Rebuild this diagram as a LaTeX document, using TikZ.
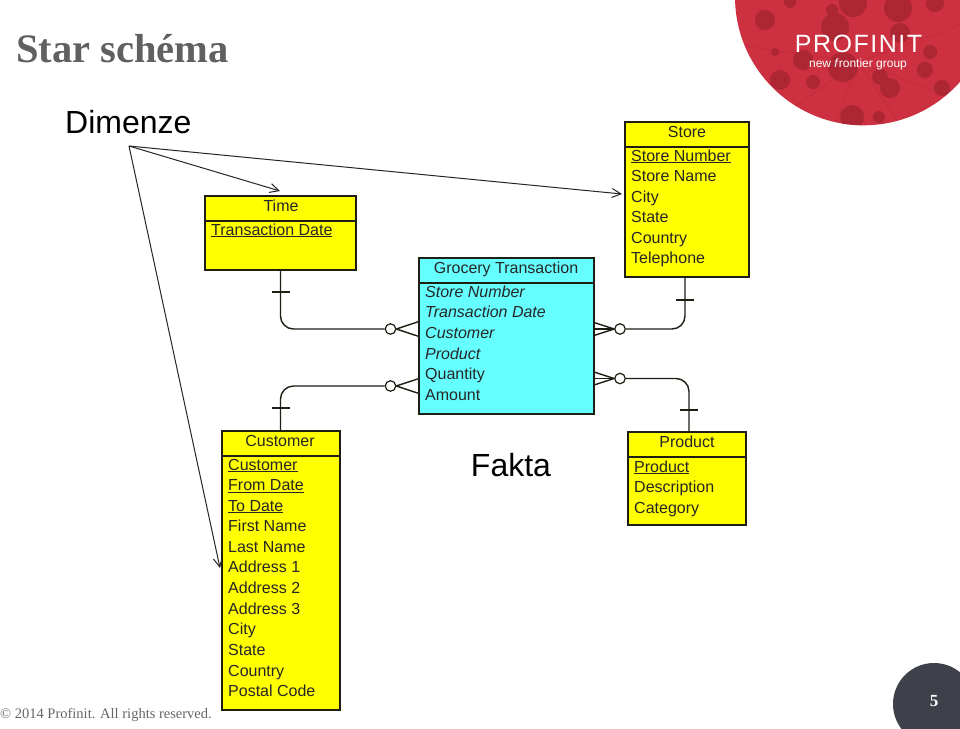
\documentclass[tikz,border=0pt]{standalone}
\usepackage{fontspec}
\setmainfont{Liberation Sans}
\newfontfamily\serifface{Liberation Serif}
\newfontfamily\brandface[LetterSpace=6]{Liberation Sans}
\usetikzlibrary{arrows.meta}
\definecolor{entyellow}{RGB}{255,255,0}
\definecolor{entcyan}{RGB}{102,255,255}
\definecolor{edgeink}{RGB}{30,30,20}
\definecolor{logored}{RGB}{205,48,64}
\definecolor{logodark}{RGB}{172,38,52}
\definecolor{logovein}{RGB}{188,42,58}
\definecolor{pagenum}{RGB}{62,64,74}
\definecolor{titlegrey}{RGB}{96,96,96}
\tikzset{
  x=1pt,y=-1pt,
  entity/.style={draw=edgeink,line width=1.3pt,inner sep=0pt,outer sep=0pt,anchor=north west},
  enttitle/.style={font=\fontsize{16}{16}\selectfont,text=black!85,inner sep=0pt,anchor=base},
  rowtext/.style={font=\fontsize{16}{16}\selectfont,text=black!85,anchor=base west,inner sep=0pt},
  fkrow/.style={rowtext,font=\fontsize{16}{16}\selectfont\itshape},
  relation/.style={draw=edgeink,line width=1.4pt,rounded corners=13pt},
  crow/.style={draw=edgeink,line width=1.4pt},
  tick/.style={draw=edgeink,line width=1.1pt},
  optional/.style={circle,draw=edgeink,fill=white,line width=1.2pt,minimum size=10.5pt,inner sep=0pt},
  pointer/.style={draw=black!85,line width=1pt,-{Straight Barb[length=9pt,width=9pt]}},
}
\begin{document}
\begin{tikzpicture}
\useasboundingbox (0,0) rectangle (960,728);
\fill[white] (0,0) rectangle (960,728);

% corporate seal, top right
\begin{scope}
  \clip (0,0) rectangle (960,728);
  \fill[logored] (863.6,-3.3) circle (128.6);
  \begin{scope}
    \clip (863.6,-3.3) circle (128.6);
    \draw[logovein,line width=.5pt] (858,62)--(735,45) (858,62)--(790,110) (858,62)--(960,100) (858,62)--(960,25) (858,62)--(835,125) (858,62)--(900,125);
    \foreach \px/\py/\pr in {765/20/10,775/52/4,780/80/10,813/82/7,803/60/10,835/27/14,853/3/14,
      832/10/6,898/8/14,900/33/10,930/52/7,925/70/8,890/88/10,880/77/8,942/88/8,852/117/12,
      879/117/6,843/67/15,935/3/9,790/2/6}
      \fill[logodark] (\px,\py) circle (\pr);
  \end{scope}
\end{scope}
\node[anchor=center,inner sep=0pt,text=white,font=\brandface\fontsize{25}{25}\selectfont] (brand) at (858.5,44) {PROFINIT};
\node[anchor=center,inner sep=0pt,text=white,font=\fontsize{12}{12}\selectfont] (tagline) at (858,64.5) {new \textit{f}rontier group};

% slide heading and captions
\node[anchor=base west,inner sep=0pt,text=titlegrey,font=\serifface\bfseries\fontsize{40.5}{41}\selectfont] (heading) at (16,62) {Star schéma};
\node[anchor=west,inner sep=0pt,font=\fontsize{32}{32}\selectfont] (dimenze) at (65,122) {Dimenze};
\node[anchor=center,inner sep=0pt,font=\fontsize{32}{32}\selectfont] (fakta) at (511,465) {Fakta};
\node[anchor=base west,inner sep=0pt,text=black!60,font=\serifface\fontsize{14.5}{15}\selectfont] (rights) at (0,718) {© 2014 Profinit. All rights reserved.};

% page number badge
\fill[pagenum] (934,704) circle (41);
\node[inner sep=0pt,text=white,font=\serifface\bfseries\fontsize{17}{17}\selectfont] (pageno) at (934,701) {5};

% entity boxes
\node[entity,fill=entyellow,minimum width=151pt,minimum height=74pt] (time) at (205,196) {};
\draw[entity] (205,221) -- (356,221);
\node[enttitle] (timeT) at (281,211.5) {Time};
\node[rowtext] (timeK) at (211,235) {\underline{Transaction Date}};

\node[entity,fill=entyellow,minimum width=124pt,minimum height=155pt] (store) at (625,122) {};
\draw[entity] (625,147) -- (749,147);
\node[enttitle] (storeT) at (687,137.5) {Store};
\node[rowtext] (storeK) at (631,161) {\underline{Store Number}};
\foreach \yy/\txt [count=\i] in {181.5/Store Name,202/City,222.5/State,243.5/Country,263.5/Telephone}
  \node[rowtext] (storeR\i) at (631,\yy) {\txt};

\node[entity,fill=entcyan,minimum width=175pt,minimum height=156pt] (fact) at (419,258) {};
\draw[entity] (419,283) -- (594,283);
\node[enttitle] (factT) at (506,273.5) {Grocery Transaction};
\foreach \yy/\txt [count=\i] in {297/Store Number,317.5/Transaction Date,338.5/Customer,359/Product}
  \node[fkrow] (factF\i) at (425,\yy) {\txt};
\foreach \yy/\txt [count=\i] in {379.5/Quantity,400/Amount}
  \node[rowtext] (factM\i) at (425,\yy) {\txt};

\node[entity,fill=entyellow,minimum width=118pt,minimum height=279pt] (customer) at (222,431) {};
\draw[entity] (222,456) -- (340,456);
\node[enttitle] (customerT) at (280,446) {Customer};
\foreach \yy/\txt [count=\i] in {470/Customer,490.5/From Date,511/To Date}
  \node[rowtext] (custK\i) at (228,\yy) {\underline{\txt}};
\foreach \yy/\txt [count=\i] in {531.5/First Name,552.5/Last Name,572.5/Address 1,593.5/Address 2,614/Address 3,634.5/City,655.5/State,676/Country,696.5/Postal Code}
  \node[rowtext] (custR\i) at (228,\yy) {\txt};

\node[entity,fill=entyellow,minimum width=118pt,minimum height=93pt] (product) at (628,432) {};
\draw[entity] (628,457) -- (746,457);
\node[enttitle] (productT) at (687,447.5) {Product};
\node[rowtext] (prodK) at (634,472) {\underline{Product}};
\foreach \yy/\txt [count=\i] in {492.5/Description,513/Category}
  \node[rowtext] (prodR\i) at (634,\yy) {\txt};

% optional ends of the relationships
\node[optional] (oTime) at (390.5,329) {};
\node[optional] (oCust) at (390.5,386) {};
\node[optional] (oStore) at (620,329) {};
\node[optional] (oProd) at (620,378.5) {};

% relationship lines
\coordinate (tTime) at (280.5,270);
\coordinate (tStore) at (685,277);
\coordinate (tCust) at (280.5,431);
\coordinate (tProd) at (689,432);
\draw[relation] (tTime) |- (oTime);
\draw[relation] (tCust) |- (oCust);
\draw[relation] (tStore) |- (oStore);
\draw[relation] (tProd) |- (oProd);

% one-side ticks
\foreach \tx/\ty in {280.5/292,685/300,280.5/408,689/410}
  \draw[tick] (\tx-9,\ty) -- (\tx+9,\ty);

% many-side crow's feet
\foreach \ny in {oTime,oCust}{
  \draw[crow] (\ny.east) -- ([yshift=7.5pt]\ny.east -| fact.west);
  \draw[crow] (\ny.east) -- ([yshift=-7.5pt]\ny.east -| fact.west);
}
\foreach \ny in {oStore,oProd}{
  \draw[crow] (\ny.west) -- ([yshift=6.5pt]\ny.west -| fact.east);
  \draw[crow] (\ny.west) -- (\ny.west -| fact.east);
  \draw[crow] (\ny.west) -- ([yshift=-6.5pt]\ny.west -| fact.east);
}

% arrows from the dimension caption
\coordinate (fan) at (129,146);
\draw[pointer] (fan) -- (280,191);
\draw[pointer] (fan) -- (622,194);
\draw[pointer] (fan) -- (220,568);
\end{tikzpicture}
\end{document}
